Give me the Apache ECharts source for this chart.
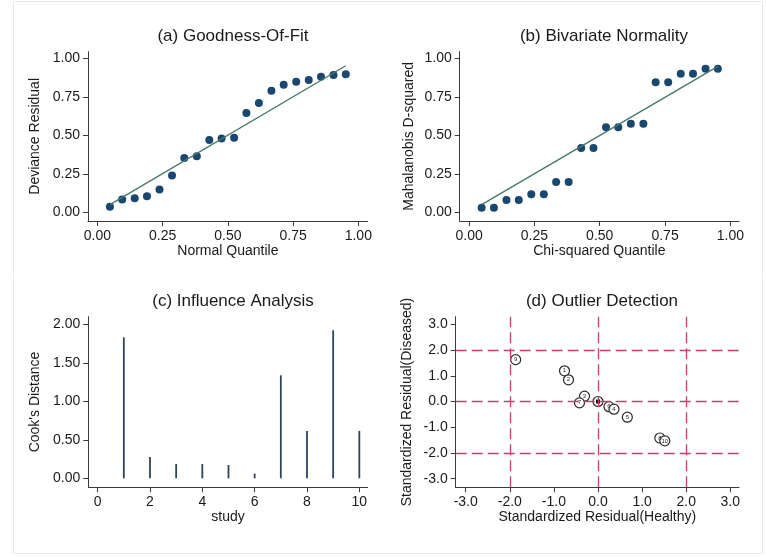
<!DOCTYPE html>
<html><head><meta charset="utf-8">
<script src="https://cdn.jsdelivr.net/npm/echarts@6/dist/echarts.min.js"></script>
<style>html,body{margin:0;padding:0;background:#fff}#c{width:766px;height:557px}</style>
</head><body><div id="c"></div>
<script>
// ---- data ----
const quantileA = [0.048,0.095,0.143,0.190,0.238,0.286,0.333,0.381,0.429,0.476,0.524,0.571,0.619,0.667,0.714,0.762,0.810,0.857,0.905,0.952];
const devianceA = [0.037,0.084,0.091,0.104,0.149,0.240,0.353,0.364,0.470,0.480,0.485,0.645,0.710,0.790,0.829,0.848,0.859,0.881,0.892,0.896];
const fitA = [[0.048,0.050],[0.952,0.952]];
const quantileB = [0.048,0.095,0.143,0.190,0.238,0.286,0.333,0.381,0.429,0.476,0.524,0.571,0.619,0.667,0.714,0.762,0.810,0.857,0.905,0.952];
const mahalanobisB = [0.030,0.030,0.080,0.080,0.117,0.117,0.197,0.197,0.418,0.418,0.552,0.552,0.576,0.576,0.844,0.844,0.900,0.900,0.933,0.933];
const fitB = [[0.048,0.050],[0.952,0.948]];
const studyC = [1,2,3,4,5,6,7,8,9,10];
const cooksC = [1.831,0.277,0.186,0.186,0.173,0.061,1.338,0.615,1.922,0.615];
const labelsD = ['9','1','2','3','7','6','4','5','8','10'];
const healthyD = [-1.867,-0.760,-0.669,-0.306,-0.420,0.249,0.362,0.665,1.402,1.515];
const diseasedD = [1.626,1.192,0.842,0.207,-0.052,-0.201,-0.298,-0.610,-1.419,-1.529];
const centreD = [[0,0]];
const refLinesD = [-2,0,2];
const ticksUnit = [0,0.25,0.5,0.75,1];
const ticksStudy = [0,2,4,6,8,10];
const ticksCook = [0,0.5,1,1.5,2];
const ticksStd = [-3,-2,-1,0,1,2,3];

// ---- styling ----
const FONT = "'Liberation Sans', Arial, Helvetica, sans-serif";
const NAVY = '#1a476f';
const FIT = '#45786a';
const REF = '#c4416f';

function axis(gi, min, max, ticks, dec, name, gap) {
  return {
    type: 'value', gridIndex: gi, min: min, max: max,
    axisLine: { show: true, onZero: false, lineStyle: { color: '#3a3a3a', width: 1 } },
    axisTick: { show: true, customValues: ticks, length: 5, lineStyle: { color: '#3a3a3a' } },
    axisLabel: { customValues: ticks, formatter: v => v.toFixed(dec), color: '#1a1a1a', fontSize: 14, fontFamily: FONT, margin: 8 },
    splitLine: { show: false },
    name: name, nameLocation: 'middle', nameGap: gap,
    nameTextStyle: { color: '#1a1a1a', fontSize: 14, fontFamily: FONT }
  };
}

const ptsA = quantileA.map((x, i) => [x, devianceA[i]]);
const ptsB = quantileB.map((x, i) => [x, mahalanobisB[i]]);
const barsC = studyC.map((s, i) => [s, cooksC[i]]);
const ptsD = labelsD.map((l, i) => ({ name: l, value: [healthyD[i], diseasedD[i]] }));
const refData = refLinesD.map(v => ({ xAxis: v })).concat(refLinesD.map(v => ({ yAxis: v })));

const titleStyle = { fontSize: 17, fontWeight: 'normal', color: '#1a1a1a', fontFamily: FONT };

const option = {
  backgroundColor: '#ffffff',
  animation: false,
  graphic: [{ type: 'rect', shape: { x: 13.5, y: 1.5, width: 749, height: 552 }, style: { fill: 'none', stroke: '#e2ecec', lineWidth: 1 }, silent: true }],
  title: [
    { text: '(a) Goodness-Of-Fit', left: 228, top: 23, textAlign: 'center', textStyle: titleStyle },
    { text: '(b) Bivariate Normality', left: 599, top: 23, textAlign: 'center', textStyle: titleStyle },
    { text: '(c) Influence Analysis', left: 228, top: 288, textAlign: 'center', textStyle: titleStyle },
    { text: '(d) Outlier Detection', left: 597, top: 288, textAlign: 'center', textStyle: titleStyle }
  ],
  grid: [
    { left: 88, top: 51.7, width: 279.7, height: 169.3 },
    { left: 459.7, top: 51.7, width: 279.3, height: 169.3 },
    { left: 88.3, top: 316.7, width: 279.4, height: 170.6 },
    { left: 455.7, top: 316.7, width: 283.3, height: 170.6 }
  ],
  xAxis: [
    axis(0, -0.036, 1.036, ticksUnit, 2, 'Normal Quantile', 22),
    axis(1, -0.036, 1.033, ticksUnit, 2, 'Chi-squared Quantile', 22),
    axis(2, -0.357, 10.32, ticksStudy, 0, 'study', 22),
    axis(3, -3.227, 3.197, ticksStd, 1, 'Standardized Residual(Healthy)', 18)
  ],
  yAxis: [
    axis(0, -0.056, 1.043, ticksUnit, 2, 'Deviance Residual', 46),
    axis(1, -0.056, 1.043, ticksUnit, 2, 'Mahalanobis D-squared', 44),
    axis(2, -0.117, 2.099, ticksCook, 2, "Cook's Distance", 46),
    axis(3, -3.334, 3.295, ticksStd, 1, 'Standardized Residual(Diseased)', 42)
  ],
  series: [
    { type: 'scatter', xAxisIndex: 0, yAxisIndex: 0, data: ptsA, symbolSize: 8, itemStyle: { color: NAVY, opacity: 1 }, z: 2 },
    { type: 'line', xAxisIndex: 0, yAxisIndex: 0, data: fitA, showSymbol: false, lineStyle: { color: FIT, width: 1.3 }, z: 3 },
    { type: 'scatter', xAxisIndex: 1, yAxisIndex: 1, data: ptsB, symbolSize: 8, itemStyle: { color: NAVY, opacity: 1 }, z: 2 },
    { type: 'line', xAxisIndex: 1, yAxisIndex: 1, data: fitB, showSymbol: false, lineStyle: { color: FIT, width: 1.3 }, z: 3 },
    { type: 'bar', xAxisIndex: 2, yAxisIndex: 2, data: barsC, barWidth: 1.8, itemStyle: { color: '#2f4458' } },
    { type: 'scatter', xAxisIndex: 3, yAxisIndex: 3, data: [], symbolSize: 0,
      markLine: { silent: true, symbol: 'none', label: { show: false },
        lineStyle: { color: REF, width: 1.3, type: [11, 5] }, data: refData }, z: 1 },
    { type: 'scatter', xAxisIndex: 3, yAxisIndex: 3, data: ptsD, symbol: 'circle', symbolSize: 10,
      itemStyle: { color: '#ffffff', borderColor: '#2a2a2a', borderWidth: 1.2, opacity: 1 },
      label: { show: true, position: 'inside', formatter: '{b}', fontSize: 6, color: '#2a2a2a', fontFamily: FONT }, z: 3 },
    { type: 'scatter', xAxisIndex: 3, yAxisIndex: 3, data: centreD, symbol: 'circle', symbolSize: 10,
      itemStyle: { color: '#ffffff', borderColor: '#2a2a2a', borderWidth: 1.2, opacity: 1 }, z: 3 },
    { type: 'scatter', xAxisIndex: 3, yAxisIndex: 3, data: centreD, symbol: 'rect', symbolSize: 4,
      itemStyle: { color: '#111111', opacity: 1 }, z: 4 }
  ]
};
const chart = echarts.init(document.getElementById('c'), null, { renderer: 'canvas' });
chart.setOption(option);
</script>
</body></html>
